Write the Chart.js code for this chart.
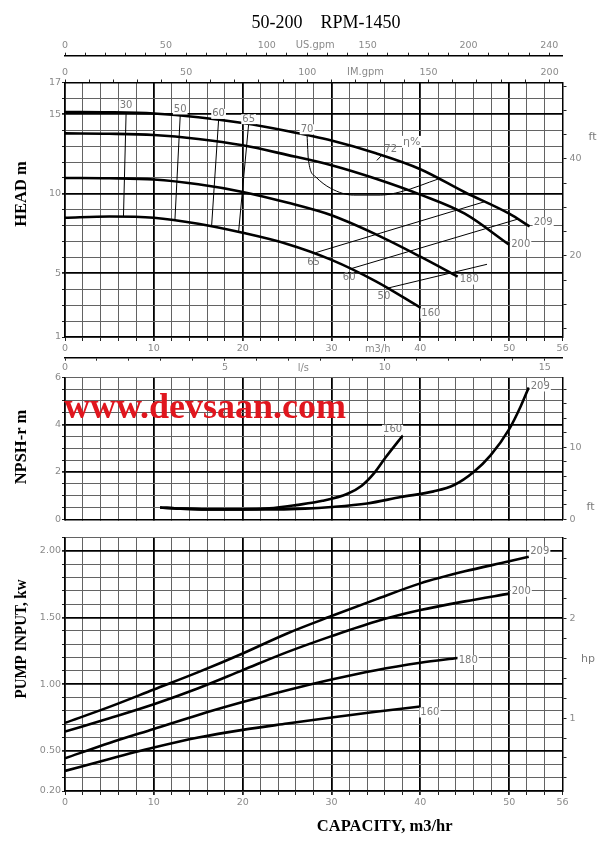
<!DOCTYPE html>
<html><head><meta charset="utf-8">
<script src="https://cdn.jsdelivr.net/npm/chart.js@4.4.0/dist/chart.umd.min.js"></script>
<style>
html,body{margin:0;padding:0;background:#fff;}
#wrap{position:relative;width:605px;height:848px;overflow:hidden;background:#fff;}
canvas{position:absolute;left:0;}
</style></head><body>
<div id="wrap">
<canvas id="cHead" width="605" height="375" style="top:0;width:605px;height:375px"></canvas>
<canvas id="cNpsh" width="605" height="160" style="top:368px;width:605px;height:160px"></canvas>
<canvas id="cPow" width="605" height="320" style="top:528px;width:605px;height:320px"></canvas>
</div>
<script>
// ---------------- DATA ----------------
const TITLE = '50-200    RPM-1450';
const IMPELLERS = ['209', '200', '180', '160'];

// Head (m) vs capacity (m3/h)
const HEAD_Q_209 = [0, 5, 10, 15, 20, 25, 30, 35, 40, 45, 50, 52.3];
const HEAD_209   = [15.15, 15.13, 15.05, 14.82, 14.45, 13.95, 13.35, 12.55, 11.55, 10.1, 8.75, 7.95];
const HEAD_Q_200 = [0, 5, 10, 15, 20, 25, 30, 35, 40, 45, 50];
const HEAD_200   = [13.8, 13.78, 13.7, 13.45, 13.05, 12.45, 11.8, 10.95, 9.95, 8.75, 6.8];
const HEAD_Q_180 = [0, 5, 10, 15, 20, 25, 30, 35, 40, 44.2];
const HEAD_180   = [11.0, 10.98, 10.9, 10.6, 10.12, 9.45, 8.65, 7.45, 6.05, 4.8];
const HEAD_Q_160 = [0, 5, 10, 15, 20, 25, 30, 35, 40];
const HEAD_160   = [8.5, 8.58, 8.5, 8.12, 7.55, 6.85, 5.85, 4.5, 2.85];

// Iso-efficiency lines (eta %)
const EFF_NAMES = ['30', '50', '60', '65', '70', '72', '65', '60', '50'];
const EFF30_Q = [6.88, 6.58];      const EFF30_H = [15.12, 8.57];
const EFF50_Q = [12.97, 12.37];    const EFF50_H = [14.93, 8.32];
const EFF60_Q = [17.29, 16.5];     const EFF60_H = [14.65, 7.95];
const EFF65_Q = [20.67, 19.54];    const EFF65_H = [14.38, 7.6];
const EFF70_Q = [27.25, 27.4, 28.2, 29.9, 32.5, 35.5, 37.8, 42.1];
const EFF70_H = [13.68, 12.13, 11.08, 10.35, 9.92, 9.92, 10.13, 10.95];
const EFF72_Q = [35.1, 35.7];      const EFF72_H = [12.1, 12.45];
const EFF65R_Q = [28.2, 47.2];     const EFF65R_H = [6.3, 9.5];
const EFF60R_Q = [32.1, 50.9];     const EFF60R_H = [5.28, 8.4];
const EFF50R_Q = [36.3, 47.5];     const EFF50R_H = [4.07, 5.57];

// NPSH-r (m)
const NPSH_Q_160 = [10.7, 13, 16, 20, 23, 26, 29, 31.8, 33.4, 34.8, 36.1, 38];
const NPSH_160   = [0.5, 0.45, 0.42, 0.42, 0.46, 0.6, 0.78, 1.08, 1.42, 1.95, 2.62, 3.53];
const NPSH_Q_209 = [10.7, 13, 16, 20, 24, 27, 30, 34, 37.8, 41.5, 43.8, 46, 47.9, 50, 51.3, 52.2];
const NPSH_209   = [0.5, 0.45, 0.42, 0.42, 0.42, 0.45, 0.52, 0.67, 0.94, 1.18, 1.45, 2.0, 2.7, 3.81, 4.78, 5.57];

// Pump input (kW)
const POW_Q_209 = [0, 5, 10, 15, 20, 25, 30, 35, 40, 45, 50, 52.2];
const POW_209   = [0.71, 0.83, 0.96, 1.09, 1.23, 1.38, 1.51, 1.635, 1.755, 1.845, 1.92, 1.955];
const POW_Q_200 = [0, 5, 10, 15, 20, 25, 30, 35, 40, 45, 50];
const POW_200   = [0.645, 0.745, 0.85, 0.97, 1.105, 1.24, 1.36, 1.47, 1.555, 1.62, 1.678];
const POW_Q_180 = [0, 5, 10, 15, 20, 25, 30, 35, 40, 44.2];
const POW_180   = [0.445, 0.56, 0.665, 0.77, 0.866, 0.955, 1.035, 1.105, 1.16, 1.196];
const POW_Q_160 = [0, 5, 10, 15, 20, 25, 30, 35, 40];
const POW_160   = [0.35, 0.44, 0.525, 0.6, 0.658, 0.705, 0.75, 0.793, 0.833];

// Axis ranges and tick labels
const Q_RANGE = [0, 56];
const HEAD_RANGE = [1, 17];
const NPSH_RANGE = [0, 6];
const POWER_RANGE = [0.2, 2.1];
const Q_TICK_LABELS = [0, 10, 20, 30, 40, 50, 56];
const USGPM_TICK_LABELS = [0, 50, 100, 150, 200, 240];
const IMGPM_TICK_LABELS = [0, 50, 100, 150, 200];
const LS_TICK_LABELS = [0, 5, 10, 15];
const HEAD_TICK_LABELS = [1, 5, 10, 15, 17];
const HEAD_FT_TICK_LABELS = [20, 40];
const NPSH_TICK_LABELS = [0, 2, 4, 6];
const NPSH_FT_TICK_LABELS = [0, 10];
const POWER_TICK_LABELS = [0.2, 0.5, 1.0, 1.5, 2.0];
const POWER_HP_TICK_LABELS = [1, 2];

// unit conversions
const M_TO_FT = 1 / 0.3048, KW_TO_HP = 1 / 0.7457, M3H_TO_USGPM = 4.402868, M3H_TO_IMGPM = 3.666154, M3H_TO_LS = 1 / 3.6;

// ---------------- HELPERS ----------------
function range(a, b, s) { const o = []; const n = Math.round((b - a) / s); for (let i = 0; i <= n; i++) o.push(Math.round((a + i * s) * 1e4) / 1e4); return o; }
const has = (arr, v) => arr.some(a => Math.abs(a - v) < 1e-6);
const pts = (q, v) => q.map((x, i) => ({ x: x, y: v[i] }));

const TICK_COLOR = '#8a8a8a';
const TICK_FONT = { family: '"DejaVu Sans", sans-serif', size: 9.5 };
const UNIT_FONT = { family: '"DejaVu Sans Condensed", "DejaVu Sans", sans-serif', size: 11 };
const MINOR = '#636363', MAJOR = '#000';

function gridOpts(isMajor, onArea, tickLength) {
  return {
    drawOnChartArea: onArea,
    tickLength: tickLength,
    color: c => { const t = c.tick; if (!t) return MINOR; if (t.unit) return 'rgba(0,0,0,0)'; return isMajor(t.value) ? MAJOR : MINOR; },
    lineWidth: c => { const t = c.tick; return (t && !t.unit && isMajor(t.value)) ? 1.8 : 1; },
    tickColor: c => { const t = c.tick; return (t && t.unit) ? 'rgba(0,0,0,0)' : '#222'; }
  };
}
function axis(o) {
  const tickList = o.ticks.slice().sort((a, b) => a.value - b.value);
  return {
    type: 'linear', axis: o.axis, position: o.position, min: o.min, max: o.max, bounds: 'data', weight: o.weight || 0,
    afterBuildTicks: ax => { ax.ticks = tickList.map(t => Object.assign({}, t)); },
    afterFit: ax => { if (o.width != null) ax.width = o.width; if (o.height != null) ax.height = o.height; },
    ticks: {
      display: o.showLabels !== false, autoSkip: false, maxRotation: 0, minRotation: 0,
      padding: o.padding != null ? o.padding : 1, color: TICK_COLOR,
      font: c => (c.tick && c.tick.unit) ? UNIT_FONT : TICK_FONT,
      callback: function (value, index, ticks) {
        const t = ticks[index]; if (t && t.unit) return t.unit;
        return has(o.labels || [], value) ? (o.fmt ? o.fmt(value) : String(value)) : '';
      }
    },
    grid: gridOpts(o.isMajor || (() => false), o.onArea !== false, o.tickLength != null ? o.tickLength : 4),
    border: { display: true, color: '#000', width: 1.5 }
  };
}
const valTicks = vals => vals.map(v => ({ value: v }));
const major10 = v => Math.abs(v % 10) < 1e-6 && v > 0 && v < 56;

function text(ctx, s, x, y, o) {
  ctx.save();
  ctx.font = o.font; ctx.textAlign = o.align || 'center'; ctx.textBaseline = o.baseline || 'middle';
  ctx.translate(x, y);
  if (o.rotate) ctx.rotate(o.rotate);
  if (o.bg) {
    const w = ctx.measureText(s).width; const h = o.bgH || 10;
    let lx = o.align === 'left' ? 0 : (o.align === 'right' ? -w : -w / 2);
    ctx.fillStyle = '#fff'; ctx.fillRect(lx - 1, -h / 2, w + 2, h);
  }
  ctx.fillStyle = o.color || '#000';
  if (o.maxWidth) ctx.fillText(s, 0, 0, o.maxWidth); else ctx.fillText(s, 0, 0);
  ctx.restore();
}
const LABEL_FONT = '10px "DejaVu Sans", sans-serif';
const LABEL_COLOR = '#7a7a7a';
const AXIS_TITLE_FONT = 'bold 16.5px "Liberation Serif", "Times New Roman", serif';

function lineDs(data, width, extra) {
  return Object.assign({ data: data, showLine: true, borderColor: '#000', backgroundColor: '#000', borderWidth: width,
    pointRadius: 0, pointHoverRadius: 0, fill: false, cubicInterpolationMode: 'monotone', xAxisID: 'x', yAxisID: 'y' }, extra || {});
}

const COMMON = { responsive: false, devicePixelRatio: 1, animation: false, events: [],
  plugins: { legend: { display: false }, tooltip: { enabled: false }, title: { display: false } } };

// ---------------- HEAD CHART ----------------
const headSeries = [[HEAD_Q_209, HEAD_209], [HEAD_Q_200, HEAD_200], [HEAD_Q_180, HEAD_180], [HEAD_Q_160, HEAD_160]];
const effSeries = [[EFF30_Q, EFF30_H], [EFF50_Q, EFF50_H], [EFF60_Q, EFF60_H], [EFF65_Q, EFF65_H], [EFF70_Q, EFF70_H],
                   [EFF72_Q, EFF72_H], [EFF65R_Q, EFF65R_H], [EFF60R_Q, EFF60R_H], [EFF50R_Q, EFF50R_H]];
// label placement (style): pixel offsets
const HEAD_END_OFF = [[4, -4], [2, 0], [2, 3], [1, 6]];
const EFF_LABEL_OFF = [[0, -7], [0, -6], [0, -6], [0, -5], [0, -6], [8.5, -5], [-2, 10], [-1, 8.5], [-3.5, 8.5]];
const EFF_ANCHOR_LAST = [false, false, false, false, false, true, false, false, false];

const headPlugin = {
  id: 'headText',
  afterDraw(chart) {
    const ctx = chart.ctx, sx = chart.scales.x, sy = chart.scales.y, ca = chart.chartArea;
    text(ctx, TITLE, 326, 28, { font: '18px "Liberation Serif", "Times New Roman", serif', baseline: 'alphabetic' });
    text(ctx, 'HEAD m', 25.5, 194, { font: AXIS_TITLE_FONT, rotate: -Math.PI / 2, baseline: 'alphabetic' });
    text(ctx, 'ft', ca.right + 30, 137, { font: '11px "DejaVu Sans", sans-serif', color: LABEL_COLOR, align: 'center' });
    headSeries.forEach((s, i) => {
      const n = s[0].length - 1;
      text(ctx, IMPELLERS[i], sx.getPixelForValue(s[0][n]) + HEAD_END_OFF[i][0], sy.getPixelForValue(s[1][n]) + HEAD_END_OFF[i][1],
        { font: LABEL_FONT, color: LABEL_COLOR, align: 'left', bg: true });
    });
    effSeries.forEach((s, i) => {
      const k = EFF_ANCHOR_LAST[i] ? s[0].length - 1 : 0;
      const x = sx.getPixelForValue(s[0][k]) + EFF_LABEL_OFF[i][0], y = sy.getPixelForValue(s[1][k]) + EFF_LABEL_OFF[i][1];
      text(ctx, EFF_NAMES[i], x, y, { font: LABEL_FONT, color: LABEL_COLOR, bg: i < 5 });
      if (EFF_ANCHOR_LAST[i]) text(ctx, 'η%', x + 21, y - 8, { font: '11px "DejaVu Sans", sans-serif', color: LABEL_COLOR, bg: true, bgH: 12 });
    });
  }
};

new Chart(document.getElementById('cHead'), {
  type: 'scatter',
  data: { datasets: headSeries.map(s => lineDs(pts(s[0], s[1]), 2.6)).concat(effSeries.map(s => lineDs(pts(s[0], s[1]), 1, { cubicInterpolationMode: 'monotone' }))) },
  options: Object.assign({}, COMMON, {
    layout: { padding: { top: 35.7, left: 0, right: 0, bottom: 0 } },
    scales: {
      x: axis({ axis: 'x', position: 'bottom', min: Q_RANGE[0], max: Q_RANGE[1], weight: 0, height: 20.7,
        ticks: valTicks(range(0, 56, 2)).concat([{ value: 35.2, unit: 'm3/h' }]), labels: Q_TICK_LABELS, isMajor: major10, tickLength: 4, padding: 2 }),
      xLS: axis({ axis: 'x', position: 'bottom', min: Q_RANGE[0] * M3H_TO_LS, max: Q_RANGE[1] * M3H_TO_LS, weight: 1, height: 17.3, onArea: false,
        ticks: valTicks(range(0, 15, 1)).concat([{ value: 7.45, unit: 'l/s' }]), labels: LS_TICK_LABELS, tickLength: 3, padding: 1 }),
      xIM: axis({ axis: 'x', position: 'top', min: Q_RANGE[0] * M3H_TO_IMGPM, max: Q_RANGE[1] * M3H_TO_IMGPM, weight: 0, height: 26.8, onArea: false,
        ticks: valTicks(range(0, 200, 10)).concat([{ value: 124, unit: 'IM.gpm' }]), labels: IMGPM_TICK_LABELS, tickLength: 3, padding: 1 }),
      xUS: axis({ axis: 'x', position: 'top', min: Q_RANGE[0] * M3H_TO_USGPM, max: Q_RANGE[1] * M3H_TO_USGPM, weight: 1, height: 20, onArea: false,
        ticks: valTicks(range(0, 240, 10)).concat([{ value: 124, unit: 'US.gpm' }]), labels: USGPM_TICK_LABELS, tickLength: 3, padding: 1 }),
      y: axis({ axis: 'y', position: 'left', min: HEAD_RANGE[0], max: HEAD_RANGE[1], width: 65,
        ticks: valTicks(range(1, 17, 1)), labels: HEAD_TICK_LABELS, isMajor: v => v === 5 || v === 10 || v === 15, tickLength: 3, padding: 1 }),
      yFt: axis({ axis: 'y', position: 'right', min: HEAD_RANGE[0] * M_TO_FT, max: HEAD_RANGE[1] * M_TO_FT, width: 42.5, onArea: false,
        ticks: valTicks(range(5, 55, 5)), labels: HEAD_FT_TICK_LABELS, tickLength: 4, padding: 3 })
    }
  }),
  plugins: [headPlugin]
});

// ---------------- NPSH CHART ----------------
const npshSeries = [[NPSH_Q_160, NPSH_160, '160'], [NPSH_Q_209, NPSH_209, '209']];
const NPSH_OFF = [[-10, -6, 'center'], [2, -1, 'left']];
const npshPlugin = {
  id: 'npshText',
  afterDraw(chart) {
    const ctx = chart.ctx, sx = chart.scales.x, sy = chart.scales.y, ca = chart.chartArea;
    text(ctx, 'NPSH-r m', 25.5, 79, { font: AXIS_TITLE_FONT, rotate: -Math.PI / 2, baseline: 'alphabetic' });
    text(ctx, 'ft', ca.right + 28, 139, { font: '11px "DejaVu Sans", sans-serif', color: LABEL_COLOR });
    npshSeries.forEach((s, i) => {
      const n = s[0].length - 1;
      text(ctx, s[2], sx.getPixelForValue(s[0][n]) + NPSH_OFF[i][0], sy.getPixelForValue(s[1][n]) + NPSH_OFF[i][1],
        { font: LABEL_FONT, color: LABEL_COLOR, align: NPSH_OFF[i][2], bg: true });
    });
    text(ctx, 'www.devsaan.com', 64, 50.3, { font: 'bold 36px "Liberation Serif", "Times New Roman", serif', color: '#e0161e', align: 'left', baseline: 'alphabetic' });
  }
};
new Chart(document.getElementById('cNpsh'), {
  type: 'scatter',
  data: { datasets: npshSeries.map(s => lineDs(pts(s[0], s[1]), 2.6)) },
  options: Object.assign({}, COMMON, {
    layout: { padding: { top: 9.3, left: 0, right: 0, bottom: 0 } },
    scales: {
      x: axis({ axis: 'x', position: 'bottom', min: Q_RANGE[0], max: Q_RANGE[1], height: 6.3, showLabels: false,
        ticks: valTicks(range(0, 56, 2)), labels: [], isMajor: major10, tickLength: 0 }),
      y: axis({ axis: 'y', position: 'left', min: NPSH_RANGE[0], max: NPSH_RANGE[1], width: 65,
        ticks: valTicks(range(0, 6, 0.5)), labels: NPSH_TICK_LABELS, isMajor: v => v === 2 || v === 4, tickLength: 3, padding: 1 }),
      yFt: axis({ axis: 'y', position: 'right', min: NPSH_RANGE[0] * M_TO_FT, max: NPSH_RANGE[1] * M_TO_FT, width: 42.5, onArea: false,
        ticks: valTicks(range(0, 18, 2)), labels: NPSH_FT_TICK_LABELS, tickLength: 4, padding: 3 })
    }
  }),
  plugins: [npshPlugin]
});

// ---------------- POWER CHART ----------------
const powSeries = [[POW_Q_209, POW_209], [POW_Q_200, POW_200], [POW_Q_180, POW_180], [POW_Q_160, POW_160]];
const POW_OFF = [[1.5, -5], [2.5, -2], [1, 2], [0, 6]];
const powPlugin = {
  id: 'powText',
  afterDraw(chart) {
    const ctx = chart.ctx, sx = chart.scales.x, sy = chart.scales.y, ca = chart.chartArea;
    text(ctx, 'PUMP INPUT, kw', 25.5, 111, { font: AXIS_TITLE_FONT, rotate: -Math.PI / 2, baseline: 'alphabetic', maxWidth: 119 });
    text(ctx, 'CAPACITY, m3/hr', 384.7, 303, { font: AXIS_TITLE_FONT, baseline: 'alphabetic' });
    text(ctx, 'hp', ca.right + 25.5, 131, { font: '11px "DejaVu Sans", sans-serif', color: LABEL_COLOR });
    powSeries.forEach((s, i) => {
      const n = s[0].length - 1;
      text(ctx, IMPELLERS[i], sx.getPixelForValue(s[0][n]) + POW_OFF[i][0], sy.getPixelForValue(s[1][n]) + POW_OFF[i][1],
        { font: LABEL_FONT, color: LABEL_COLOR, align: 'left', bg: true });
    });
  }
};
new Chart(document.getElementById('cPow'), {
  type: 'scatter',
  data: { datasets: powSeries.map(s => lineDs(pts(s[0], s[1]), 2.6)) },
  options: Object.assign({}, COMMON, {
    layout: { padding: { top: 9.3, left: 0, right: 0, bottom: 0 } },
    scales: {
      x: axis({ axis: 'x', position: 'bottom', min: Q_RANGE[0], max: Q_RANGE[1], height: 57,
        ticks: valTicks(range(0, 56, 2)), labels: Q_TICK_LABELS, isMajor: major10, tickLength: 4, padding: 2 }),
      y: axis({ axis: 'y', position: 'left', min: POWER_RANGE[0], max: POWER_RANGE[1], width: 65,
        ticks: valTicks(range(0.2, 2.1, 0.1)), labels: POWER_TICK_LABELS, fmt: v => v.toFixed(2),
        isMajor: v => has([0.5, 1.0, 1.5, 2.0], v), tickLength: 3, padding: 1 }),
      yHp: axis({ axis: 'y', position: 'right', min: POWER_RANGE[0] * KW_TO_HP, max: POWER_RANGE[1] * KW_TO_HP, width: 42.5, onArea: false,
        ticks: valTicks(range(0.4, 2.8, 0.2)), labels: POWER_HP_TICK_LABELS, tickLength: 4, padding: 3 })
    }
  }),
  plugins: [powPlugin]
});
</script>
</body></html>
